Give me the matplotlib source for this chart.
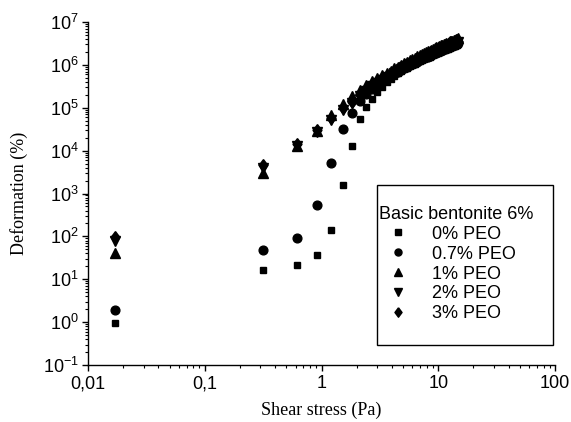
import matplotlib
matplotlib.use("Agg")
import matplotlib.pyplot as plt
from matplotlib.ticker import LogLocator, FixedLocator, FixedFormatter, NullFormatter
from matplotlib.patches import Rectangle

plt.rcParams['mathtext.fontset'] = 'custom'
plt.rcParams['mathtext.rm'] = 'Liberation Sans'
plt.rcParams['mathtext.it'] = 'Liberation Sans'
plt.rcParams['axes.unicode_minus'] = False

# shear stress steps (Pa)
stress = [0.017, 0.317, 0.617, 0.917, 1.217, 1.517, 1.817, 2.117, 2.417, 2.717,
          3.017, 3.317, 3.617, 3.917, 4.217, 4.517, 4.817, 5.117, 5.417, 5.717,
          6.017, 6.317, 6.617, 6.917, 7.217, 7.517, 7.817, 8.117, 8.417, 8.717,
          9.017, 9.317, 9.617, 9.917, 10.217, 10.517, 10.817, 11.117, 11.417, 11.717,
          12.017, 12.317, 12.617, 12.917, 13.217, 13.517, 13.817, 14.117, 14.417, 14.717]

# deformation (%)
peo_0 = [0.95, 16.5, 21.7, 36.5, 139, 1585, 13100, 54000, 106000, 158000,
         229000, 306000, 389000, 472000, 552000, 634000, 713000, 787000, 864000, 933000,
         1.001e6, 1.071e6, 1.140e6, 1.210e6, 1.280e6, 1.351e6, 1.421e6, 1.492e6, 1.563e6, 1.633e6,
         1.704e6, 1.775e6, 1.845e6, 1.916e6, 1.987e6, 2.056e6, 2.126e6, 2.196e6, 2.265e6, 2.335e6,
         2.404e6, 2.472e6, 2.541e6, 2.611e6, 2.678e6, 2.746e6, 2.813e6, 2.881e6, 2.947e6, 3.014e6]
peo_07 = [1.94, 47.7, 92, 533, 5250, 31500, 77000, 144000, 210000, 275000,
          340000, 410000, 496000, 562000, 628000, 696000, 765000, 835000, 907000, 979000,
          1.051e6, 1.124e6, 1.196e6, 1.270e6, 1.344e6, 1.418e6, 1.492e6, 1.566e6, 1.641e6, 1.715e6,
          1.789e6, 1.863e6, 1.936e6, 2.011e6, 2.085e6, 2.158e6, 2.232e6, 2.305e6, 2.378e6, 2.451e6,
          2.523e6, 2.595e6, 2.668e6, 2.741e6, 2.811e6, 2.883e6, 2.953e6, 3.024e6, 3.094e6, 3.164e6]
peo_1 = [42, 2970, 12500, 29000, 68000, 125000, 188000, 260000, 339000, 413000,
         490000, 570000, 653000, 739000, 826000, 916000, 1.007e6, 1.099e6, 1.193e6, 1.288e6,
         1.383e6, 1.479e6, 1.574e6, 1.671e6, 1.768e6, 1.866e6, 1.963e6, 2.061e6, 2.159e6, 2.256e6,
         2.354e6, 2.451e6, 2.548e6, 2.646e6, 2.744e6, 2.840e6, 2.937e6, 3.033e6, 3.129e6, 3.225e6,
         3.320e6, 3.415e6, 3.510e6, 3.606e6, 3.699e6, 3.793e6, 3.885e6, 3.979e6, 4.071e6, 4.163e6]
peo_2 = [78, 4000, 12500, 27500, 52000, 89000, 128000, 185000, 250000, 315000,
         385000, 455000, 522000, 591000, 661000, 733000, 806000, 879000, 954000, 1.030e6,
         1.106e6, 1.183e6, 1.259e6, 1.337e6, 1.414e6, 1.493e6, 1.570e6, 1.649e6, 1.727e6, 1.805e6,
         1.883e6, 1.961e6, 2.038e6, 2.117e6, 2.195e6, 2.272e6, 2.350e6, 2.426e6, 2.503e6, 2.580e6,
         2.656e6, 2.732e6, 2.808e6, 2.885e6, 2.959e6, 3.034e6, 3.108e6, 3.183e6, 3.257e6, 3.330e6]
peo_3 = [96, 4700, 14000, 30400, 57000, 97000, 139000, 200000, 269000, 336000,
         407000, 480000, 556000, 629000, 703000, 780000, 857000, 935000, 1.015e6, 1.096e6,
         1.177e6, 1.259e6, 1.339e6, 1.422e6, 1.505e6, 1.588e6, 1.671e6, 1.754e6, 1.837e6, 1.920e6,
         2.003e6, 2.086e6, 2.168e6, 2.252e6, 2.335e6, 2.417e6, 2.499e6, 2.581e6, 2.663e6, 2.744e6,
         2.825e6, 2.906e6, 2.987e6, 3.069e6, 3.148e6, 3.228e6, 3.306e6, 3.386e6, 3.464e6, 3.543e6]

series = [peo_0, peo_07, peo_1, peo_2, peo_3]
labels = ['0% PEO', '0.7% PEO', '1% PEO', '2% PEO', '3% PEO']
diamond = [(0, 1), (0.75, 0), (0, -1), (-0.75, 0), (0, 1)]
markers = ['s', 'o', '^', 'v', diamond]
sizes = [5, 6.3, 6.5, 6.5, 8.5]

x_ticks = [0.01, 0.1, 1, 10, 100]
x_ticklabels = ['0,01', '0,1', '1', '10', '100']
y_ticks = [1e-1, 1e0, 1e1, 1e2, 1e3, 1e4, 1e5, 1e6, 1e7]
y_ticklabels = [r'$\mathregular{10^{%d}}$' % e for e in range(-1, 8)]

fig = plt.figure(figsize=(5.71, 4.22), dpi=100)
ax = fig.add_axes([88 / 571, 1 - 365 / 422, 467 / 571, 343 / 422])

for y, lab, m, ms in zip(series, labels, markers, sizes):
    ax.plot(stress, y, linestyle='none', marker=m, markersize=ms,
            color='black', label=lab)

ax.set_xscale('log')
ax.set_yscale('log')
ax.set_xlim(0.01, 100)
ax.set_ylim(1e-1, 1e7)

ax.xaxis.set_major_locator(FixedLocator(x_ticks))
ax.xaxis.set_major_formatter(FixedFormatter(x_ticklabels))
ax.xaxis.set_minor_locator(LogLocator(base=10, subs=range(2, 10), numticks=20))
ax.xaxis.set_minor_formatter(NullFormatter())
ax.yaxis.set_major_locator(FixedLocator(y_ticks))
ax.yaxis.set_major_formatter(FixedFormatter(y_ticklabels))
ax.yaxis.set_minor_locator(LogLocator(base=10, subs=range(2, 10), numticks=20))
ax.yaxis.set_minor_formatter(NullFormatter())

for s in ['top', 'right']:
    ax.spines[s].set_visible(False)
for s in ['left', 'bottom']:
    ax.spines[s].set_linewidth(1.0)

ax.tick_params(which='major', direction='out', length=4.5, width=1,
               labelsize=13, pad=2)
ax.tick_params(axis='x', which='major', pad=3)
ax.tick_params(which='minor', direction='out', length=2.5, width=0.8)
for t in ax.get_xticklabels() + ax.get_yticklabels():
    t.set_fontfamily('Liberation Sans')

ax.set_xlabel('Shear stress (Pa)', fontfamily='Liberation Serif', fontsize=13, labelpad=7)
ax.set_ylabel('Deformation (%)', fontfamily='Liberation Serif', fontsize=13, labelpad=11)

# legend box
ax.add_patch(Rectangle((0.619, 0.058), 0.377, 0.467, transform=ax.transAxes,
                       fill=False, edgecolor='black', linewidth=1, clip_on=False, zorder=5))
leg = ax.legend(title='Basic bentonite 6%', loc='upper left',
                bbox_to_anchor=(0.624, 0.464), frameon=False, borderpad=0,
                borderaxespad=0, handlelength=2.1, handletextpad=0.8,
                labelspacing=0.16, markerscale=0.8, alignment='left',
                prop={'family': 'Liberation Sans', 'size': 13},
                title_fontproperties={'family': 'Liberation Sans', 'size': 13})

fig.savefig('out.png', dpi=100)
